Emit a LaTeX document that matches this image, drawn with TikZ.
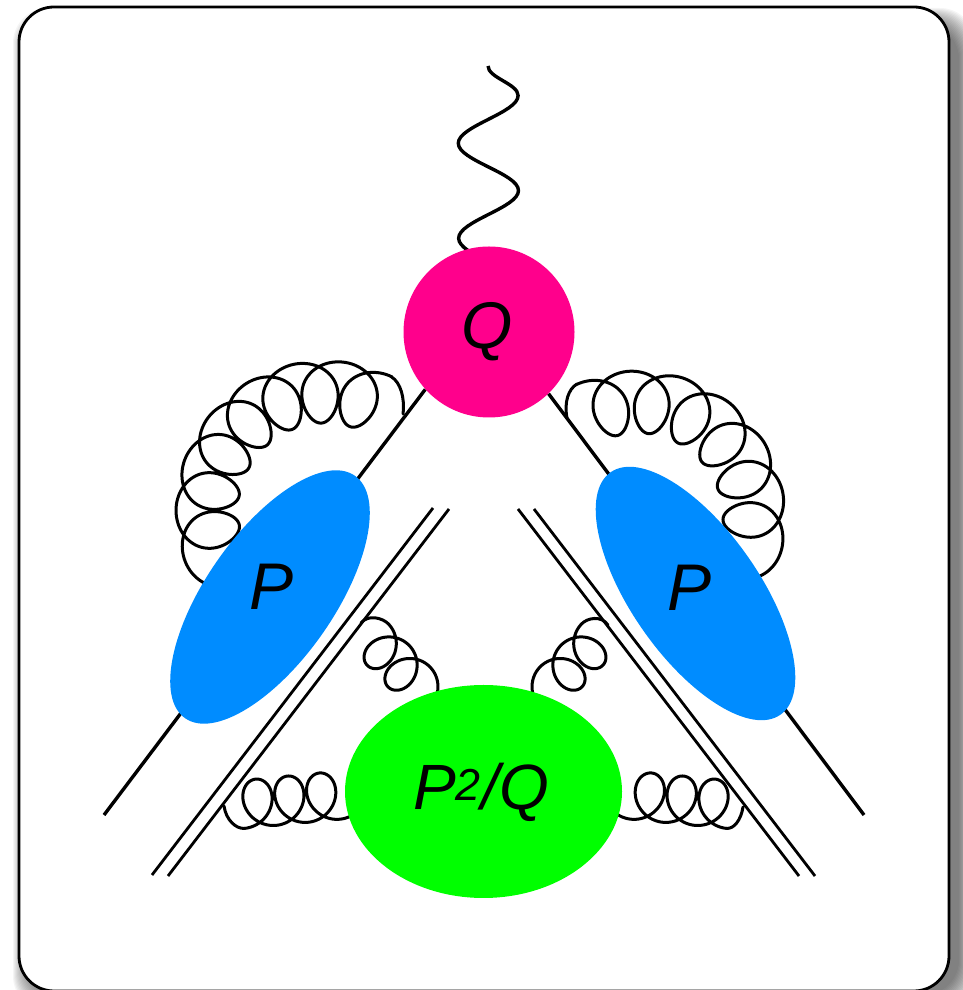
\documentclass[tikz,border=0pt]{standalone}
\usepackage{fontspec}
\setmainfont{Liberation Sans}
\usetikzlibrary{shapes.geometric, backgrounds, decorations.pathmorphing}
\definecolor{hardpink}{RGB}{255, 0, 140}
\definecolor{jetblue}{RGB}{0, 140, 255}
\definecolor{softgreen}{RGB}{0, 255, 0}
% coil round a centre: centre, angle of first loop, step, swing, radius, height, domain
\newcommand{\gluonarc}[7]{
  \draw[gluon, shift={(#1)}] plot[samples=640, domain=#7]
    ({#2+#3*((\x-180)/360)+#4*sin(\x)}:{#5+#6*cos(\x)});
}
% coil along a line: first loop, options, step, height, swing, domain
\newcommand{\gluonline}[6]{
  \begin{scope}[shift={(#1)}, #2]
    \draw[gluon] plot[samples=240, domain=#6]
      ({#3*((\x-180)/360)+#5*sin(\x)}, {#4*cos(\x)});
  \end{scope}
}
\begin{document}
\begin{tikzpicture}[x=1pt, y=1pt,
  blob/.style={ellipse, inner sep=0pt},
  frame/.style={draw=black, line width=2.8pt, fill=white, rounded corners=35pt,
                minimum width=930pt, minimum height=984pt, inner sep=0pt},
  shade/.style={fill=black, fill opacity=0.04, rounded corners=#1, inner sep=0pt},
  txt/.style={font=\fontsize{66}{66}\selectfont\itshape, inner sep=0pt},
  quark/.style={draw, line width=3.4pt},
  jet/.style={draw, line width=2.8pt},
  photon/.style={draw, line width=3.4pt, decorate,
                 decoration={snake, amplitude=30pt, segment length=95pt}},
  gluon/.style={draw, line width=3pt, line join=round, line cap=round}]

  \useasboundingbox (0,0) rectangle (963,990);
  \clip (0,0) rectangle (963,990);

  \node[blob, fill=hardpink, minimum width=171pt, minimum height=171pt] (hard) at (489,658) {};
  \node[blob, fill=jetblue, minimum width=296pt, minimum height=128pt, rotate=55] (collL) at (270,393) {};
  \node[blob, fill=jetblue, minimum width=296pt, minimum height=128pt, rotate=-55] (collR) at (695.5,396.5) {};
  \node[blob, fill=softgreen, minimum width=277pt, minimum height=213pt] (soft) at (483.5,198.5) {};

  \node[txt] (hardlabel) at (487,658) {Q};
  \node[txt] (collLlabel) at (272,403) {P};
  \node[txt] (collRlabel) at (690,402) {P};
  \node[txt, font=\fontsize{64}{64}\selectfont\itshape] (softlabel) at (481,198) {P\textsuperscript{2}/Q};

  \coordinate (top) at (488,924);
  \coordinate (quarkL) at (104,175);
  \coordinate (quarkR) at (864,175);
  \coordinate (jetLa) at (433,482);
  \coordinate (jetLb) at (152,115);
  \coordinate (jetLc) at (449,481);
  \coordinate (jetLd) at (168,114);
  \coordinate (jetRa) at (518,481);
  \coordinate (jetRb) at (799,114);
  \coordinate (jetRc) at (534,481);
  \coordinate (jetRd) at (815,114);
  \coordinate (coilL) at (325,480);
  \coordinate (coilR) at (638,472);
  \coordinate (softLa) at (258,187);
  \coordinate (softLb) at (383,340);
  \coordinate (softRa) at (587,340);
  \coordinate (softRb) at (713,187);

  \begin{pgfonlayer}{background}
    \foreach \g in {0,...,16}
      \fill[shade=35pt] (29-\g,-\g-5) rectangle (959+\g,966+\g);
    \node[frame] (box) at (484,491) {};

    \draw[photon] (top) -- (hard.center);
    \draw[quark] (quarkL) -- (hard.222);
    \draw[quark] (quarkR) -- (hard.-46);
    \draw[jet] (jetLa) -- (jetLb);
    \draw[jet] (jetLc) -- (jetLd);
    \draw[jet] (jetRa) -- (jetRb);
    \draw[jet] (jetRc) -- (jetRd);

    \gluonarc{coilL}{73}{19.5}{13.7}{118}{31}{0:2595}
    \gluonarc{coilR}{104}{-21}{-13.8}{116}{31}{0:2235}
    \draw[gluon] (403,576) .. controls (405,592) and (400.5,607.5) .. (391.6,613);
    \draw[gluon] (567,572) .. controls (564,588) and (568.4,601) .. (577,606);

    \gluonline{softLa}{rotate=5.5, yscale=-1}{32}{24}{22}{0:1125}
    \gluonline{softLb}{rotate=-46}{30}{22}{20}{0:800}
    \gluonline{softRa}{rotate=-134, yscale=-1}{30}{22}{20}{0:800}
    \gluonline{softRb}{rotate=174.5}{32}{24}{22}{0:1125}
    \draw[gluon] (224,184) .. controls (226,170) and (236,161) .. (244.4,161.6);
    \draw[gluon] (743,183) .. controls (741,170) and (734,161) .. (726.6,161.6);
    \draw[gluon] (361,367) .. controls (368,376) and (382.8,372) .. (388.4,366.1);
    \draw[gluon] (608,365) .. controls (601,375) and (587.2,372) .. (581.6,366.1);
  \end{pgfonlayer}
\end{tikzpicture}
\end{document}
